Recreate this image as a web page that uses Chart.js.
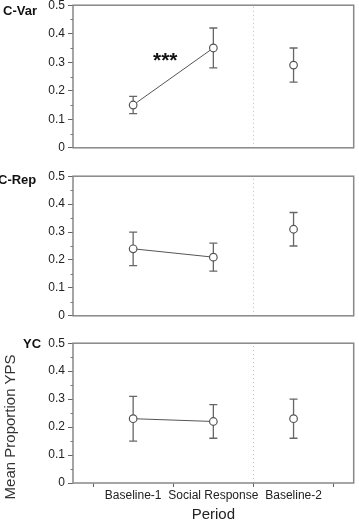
<!DOCTYPE html>
<html><head><meta charset="utf-8">
<script src="https://cdn.jsdelivr.net/npm/chart.js@4"></script>
<style>
html,body{margin:0;padding:0;background:#fff;width:359px;height:524px;overflow:hidden;position:relative;font-family:"Liberation Sans",Arial,sans-serif;}
canvas{position:absolute;left:0;}
.t{position:absolute;font-weight:bold;font-size:13px;color:#111;line-height:16px;white-space:nowrap;}
.yt{position:absolute;font-size:15px;color:#333;line-height:18px;white-space:nowrap;width:160px;text-align:center;left:-70px;top:418px;transform:rotate(-90deg);}
</style></head><body>
<canvas id="p1" width="359" height="163" style="top:-5px"></canvas>
<canvas id="p2" width="359" height="160" style="top:166px"></canvas>
<canvas id="p3" width="359" height="191" style="top:333px"></canvas>
<div class="t" style="left:3px;top:3px">C-Var</div>
<div class="t" style="left:-2px;top:172px">C-Rep</div>
<div class="t" style="left:23px;top:336px">YC</div>
<div class="yt">Mean Proportion YPS</div>
<script>
// ---- data ----
const categories = ['Baseline-1', 'Social Response', 'Baseline-2'];
const categoryX = [0.5, 1.5, 2.5];
const boundaryTicks = [0, 1, 2, 3];
const yTicks = [0, 0.1, 0.2, 0.3, 0.4, 0.5];
const cvarMean = [0.15, 0.35, 0.29];
const cvarErr  = [0.03, 0.07, 0.06];
const crepMean = [0.24, 0.21, 0.31];
const crepErr  = [0.06, 0.05, 0.06];
const ycMean   = [0.23, 0.22, 0.23];
const ycErr    = [0.08, 0.06, 0.07];
const phaseChangeX = 2;
const sigLabel = '***';
const sigAt = [0.9, 0.32];

const FONT = '"Liberation Sans", Arial, sans-serif';
const INK = '#555';

const boxPlugin = {
  id: 'box',
  afterDraw(chart) {
    const a = chart.chartArea, c = chart.ctx;
    c.save();
    c.strokeStyle = '#888';
    c.lineWidth = 1.5;
    c.strokeRect(a.left, a.top, a.right - a.left, a.bottom - a.top);
    // minor y ticks
    const y = chart.scales.y;
    c.strokeStyle = '#777';
    c.lineWidth = 1;
    for (let i = 0; i < yTicks.length - 1; i++) {
      const v = (yTicks[i] + yTicks[i + 1]) / 2;
      const py = Math.round(y.getPixelForValue(v)) + 0.5;
      c.beginPath(); c.moveTo(a.left - 2.5, py); c.lineTo(a.left, py); c.stroke();
    }
    const note = chart.options.plugins.box && chart.options.plugins.box.note;
    if (note) {
      c.fillStyle = '#111';
      c.font = 'bold 21px ' + FONT;
      c.textAlign = 'center';
      c.textBaseline = 'middle';
      c.fillText(note.text, chart.scales.x.getPixelForValue(note.x), y.getPixelForValue(note.y) + 5);
    }
    c.restore();
  }
};

function makePanel(id, means, errs, showX, note) {
  const datasets = [];
  datasets.push({
    data: [0, 1].map(i => ({x: categoryX[i], y: means[i]})),
    showLine: true, borderColor: INK, borderWidth: 1,
    pointRadius: 3.8, pointBackgroundColor: '#fff', pointBorderColor: INK, pointBorderWidth: 1.2,
    order: 0
  });
  datasets.push({
    data: [{x: categoryX[2], y: means[2]}],
    showLine: false,
    pointRadius: 3.8, pointBackgroundColor: '#fff', pointBorderColor: INK, pointBorderWidth: 1.2,
    order: 0
  });
  means.forEach((m, i) => {
    datasets.push({
      data: [{x: categoryX[i], y: m - errs[i]}, {x: categoryX[i], y: m + errs[i]}],
      showLine: true, borderColor: '#666', borderWidth: 1.3,
      pointStyle: 'line', pointRadius: 4, pointBorderColor: '#666', pointBorderWidth: 1.3,
      order: 1
    });
  });
  datasets.push({
    data: [{x: phaseChangeX, y: yTicks[0]}, {x: phaseChangeX, y: yTicks[yTicks.length - 1]}],
    showLine: true, borderColor: '#bbb', borderWidth: 1, borderDash: [1, 3],
    pointRadius: 0, order: 2
  });

  return new Chart(document.getElementById(id), {
    type: 'scatter',
    data: {datasets},
    plugins: [boxPlugin],
    options: {
      responsive: false, animation: false,
      layout: {padding: {top: 10, right: 2, bottom: showX ? 0 : 10, left: 0}},
      plugins: {legend: {display: false}, tooltip: {enabled: false}, box: {note}},
      scales: {
        x: {
          type: 'linear', display: showX, min: -0.25, max: 3.25,
          afterBuildTicks: s => { s.ticks = [0, 0.5, 1, 1.5, 2, 2.5, 3].map(v => ({value: v})); },
          afterFit: s => { if (showX) s.height = 41; },
          grid: {drawOnChartArea: false, tickLength: 4,
                 tickColor: c => (c.tick && boundaryTicks.includes(c.tick.value)) ? '#666' : 'rgba(0,0,0,0)'},
          border: {display: false},
          ticks: {autoSkip: false, maxRotation: 0, padding: 1, color: '#222', font: {family: FONT, size: 12},
                  callback: v => { const i = categoryX.indexOf(v); return i >= 0 ? categories[i] : ''; }},
          title: {display: true, text: 'Period', color: '#222', font: {family: FONT, size: 15}, padding: 0}
        },
        y: {
          min: yTicks[0], max: yTicks[yTicks.length - 1],
          afterBuildTicks: s => { s.ticks = yTicks.map(v => ({value: v})); },
          afterFit: s => { s.width = 73; },
          grid: {drawOnChartArea: false, tickLength: 5, tickColor: '#666'},
          border: {display: false},
          ticks: {padding: 3, color: '#222', font: {family: FONT, size: 12},
                  callback: v => String(Math.round(v * 10) / 10)}
        }
      }
    }
  });
}

makePanel('p1', cvarMean, cvarErr, false, {text: sigLabel, x: sigAt[0], y: sigAt[1]});
makePanel('p2', crepMean, crepErr, false, null);
makePanel('p3', ycMean, ycErr, true, null);
</script>
</body></html>
